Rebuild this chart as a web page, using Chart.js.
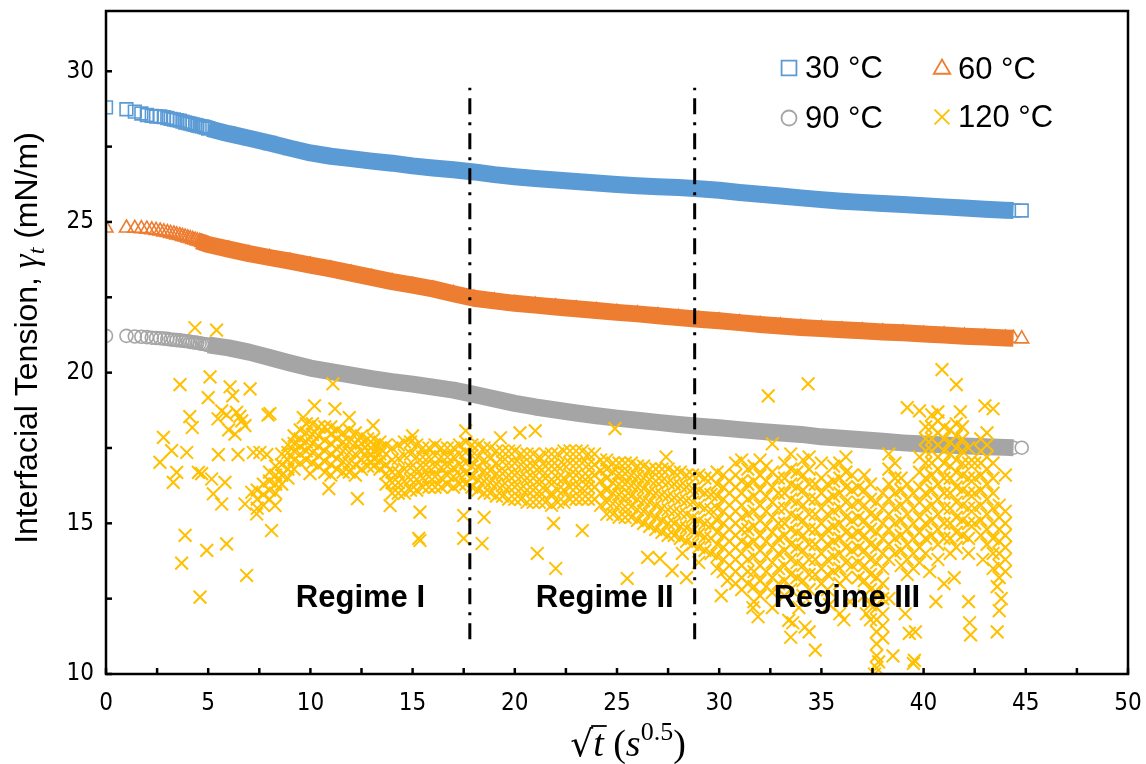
<!DOCTYPE html>
<html>
<head>
<meta charset="utf-8">
<script src="https://cdn.jsdelivr.net/npm/chart.js@4.4.0/dist/chart.umd.min.js"></script>
<style>
  html, body { margin: 0; padding: 0; background: #fff; }
  #wrap { width: 1146px; height: 764px; }
</style>
</head>
<body>
<div id="wrap"><canvas id="chart" width="1146" height="764"></canvas></div>
<script>
// ---- data ----
const seriesNames = ['30 °C', '60 °C', '90 °C', '120 °C'];

// sqrt(t) positions shared by the three smooth runs
const smoothX = [0, 1, 1.41, 1.73, 2, 2.24, 2.45, 2.65, 2.83, 3, 3.16, 3.32, 3.46, 3.61, 3.74, 3.87, 4, 4.12, 4.24, 4.36, 4.47, 4.58, 4.69, 4.8, 4.9, 5,
  6, 7, 8, 9, 10, 11, 12, 13, 14, 15, 16, 17, 18, 19, 20, 21, 22, 23, 24, 25, 26, 27, 28, 29, 30,
  31, 32, 33, 34, 35, 36, 37, 38, 39, 40, 41, 42, 43, 44, 44.4, 44.8];

const ift30 = [28.8, 28.74, 28.66, 28.6, 28.55, 28.52, 28.5, 28.5, 28.48, 28.45, 28.42, 28.4, 28.38, 28.36, 28.33, 28.3, 28.28, 28.26, 28.24, 28.22, 28.2, 28.18, 28.17, 28.15, 28.13, 28.1,
  27.93, 27.78, 27.62, 27.45, 27.29, 27.18, 27.1, 27.02, 26.95, 26.86, 26.79, 26.73, 26.66, 26.57, 26.5, 26.44, 26.39, 26.34, 26.29, 26.24, 26.2, 26.17, 26.14, 26.1, 26.05,
  25.98, 25.92, 25.86, 25.8, 25.74, 25.69, 25.65, 25.61, 25.58, 25.54, 25.5, 25.46, 25.42, 25.39, 25.38, 25.38];

const ift60 = [24.8, 24.8, 24.79, 24.78, 24.76, 24.74, 24.72, 24.7, 24.67, 24.65, 24.62, 24.6, 24.57, 24.55, 24.52, 24.5, 24.47, 24.45, 24.42, 24.4, 24.37, 24.35, 24.32, 24.3, 24.27, 24.25,
  24.1, 23.95, 23.82, 23.7, 23.57, 23.44, 23.3, 23.16, 23.02, 22.9, 22.78, 22.62, 22.47, 22.38, 22.3, 22.24, 22.18, 22.12, 22.06, 22.0, 21.95, 21.89, 21.83, 21.77, 21.72,
  21.66, 21.6, 21.55, 21.5, 21.46, 21.42, 21.39, 21.35, 21.32, 21.28, 21.25, 21.21, 21.18, 21.15, 21.14, 21.12];

const ift90 = [21.22, 21.22, 21.2, 21.19, 21.18, 21.16, 21.15, 21.14, 21.13, 21.12, 21.1, 21.09, 21.08, 21.07, 21.06, 21.05, 21.04, 21.02, 21.01, 21.0, 20.99, 20.97, 20.96, 20.95, 20.93, 20.92,
  20.82, 20.68, 20.5, 20.32, 20.15, 20.03, 19.92, 19.8, 19.7, 19.62, 19.52, 19.42, 19.28, 19.13, 18.98, 18.86, 18.76, 18.66, 18.57, 18.49, 18.42, 18.35, 18.28, 18.22, 18.17,
  18.11, 18.05, 18.0, 17.95, 17.87, 17.82, 17.77, 17.72, 17.67, 17.63, 17.6, 17.57, 17.54, 17.52, 17.51, 17.51];

// 120 °C: isolated points [sqrt(t), IFT]
const hotSparse = [
  [2.64,17.02],[2.81,17.85],[3.21,17.41],[3.29,16.36],[3.46,16.69],[3.62,19.6],[3.7,13.68],[3.87,14.6],[3.95,17.35],[4.1,18.54],
  [4.22,18.18],[4.35,21.49],[4.52,16.69],[4.6,12.55],[4.68,16.65],[4.93,14.1],[5.0,19.17],[5.09,19.86],[5.17,16.47],[5.25,15.98],
  [5.41,21.41],[5.48,18.47],[5.5,17.28],[5.66,18.73],[5.66,15.64],[5.82,16.36],[5.9,14.32],[6.07,19.53],[6.2,19.23],[6.31,17.96],
  [6.39,18.68],[6.46,17.28],[6.64,18.4],[6.8,18.24],[6.8,15.64],[6.88,13.27],[7.05,19.46],[7.13,16.03],[7.21,17.35],[7.37,15.31],
  [7.53,17.35],[7.87,17.28],[7.93,18.6],[6.0,18.1],[6.55,18.55],[5.9,18.6],
  [8.02,18.64],[8.1,14.76],[8.27,15.59],[9.65,18.51],[9.98,16.65],[10.2,18.9],[10.9,16.15],[11.1,19.63],[11.2,18.8],[11.9,18.51],
  [12.3,15.82],[13.07,18.24],[13.9,15.59],[15.0,17.9],[15.3,14.5],[15.36,14.43],[15.36,15.37],[17.5,14.5],[17.5,15.26],[17.6,18.07],
  [18.4,14.33],[18.5,15.2],[19.3,17.84],[20.25,18.0],[21.0,18.07],[21.1,14.0],[21.9,15.0],[22.0,13.5],[23.3,14.76],[24.9,18.14],
  [25.5,13.17],[26.5,13.87],[27.1,13.83],[27.4,17.2],[27.7,13.43],[28.4,13.2],[28.2,14.0],[29.0,13.7],[30.4,13.1],[30.1,12.6],
  [31.1,17.1],[31.65,12.2],[31.9,11.9],[32.4,19.23],[32.6,17.64],[33.4,11.78],[33.5,11.22],[33.6,11.7],[34.35,19.63],[34.2,11.56],
  [34.4,11.4],[34.7,10.79],[35.9,12.0],[36.1,11.8],[37.6,10.0],[37.8,10.4],[38.3,12.5],[38.5,10.6],[39.2,18.84],[39.8,18.73],
  [39.3,11.35],[39.5,10.35],[39.55,10.45],[39.6,11.4],[39.1,12.0],[40.9,20.1],[41.6,19.6],[41.8,18.7],[42.2,12.4],[42.25,11.7],
  [42.3,11.3],[41.5,13.2],[43.0,18.9],[43.4,18.8],[43.6,12.9],[43.7,12.1],[43.6,11.4],[43.8,12.5],[44.0,16.6],[40.6,12.4],
  [41.0,13.0],[40.3,13.4],[36.4,12.4],[35.4,12.3],[33.9,12.2],[37.2,12.0],[42.9,13.8]
];

// 120 °C: dense stretches, read as columns [sqrt(t), [IFT values]]
const hotColumns = [
  [7.4,[15.5,15.8,16.1]], [7.7,[15.6,15.95,16.3]], [8.0,[15.8,16.1,16.4,16.7]], [8.3,[16.0,16.3,16.6,16.9]],
  [8.6,[16.3,16.6,16.95,17.3]], [8.9,[16.5,16.8,17.1,17.35,17.6]], [9.2,[16.8,17.1,17.4,17.65,17.9]], [9.5,[17.0,17.3,17.55,17.8,18.1]],
  [9.8,[17.1,17.4,17.7,18.0,18.3]], [10.1,[17.0,17.35,17.65,17.95,18.3]], [10.4,[16.9,17.25,17.55,17.9,18.2]], [10.7,[16.7,17.05,17.4,17.75,18.2]],
  [11.0,[16.6,16.95,17.3,17.65,17.95,18.2]], [11.3,[16.8,17.15,17.45,17.8,18.1]], [11.6,[16.7,17.05,17.4,17.7,18.0]], [11.9,[16.7,17.0,17.35,17.7,18.1]],
  [12.2,[16.6,16.95,17.3,17.65,18.0]], [12.5,[16.8,17.1,17.4,17.65,17.9]], [12.8,[16.9,17.15,17.4,17.6,17.8]], [13.1,[16.9,17.15,17.4,17.6,17.8]],
  [13.4,[16.8,17.05,17.3,17.5,17.7]], [13.7,[16.3,16.65,16.95,17.3,17.6]], [14.0,[16.0,16.35,16.7,17.1,17.5]], [14.3,[16.0,16.35,16.7,17.15,17.6]],
  [14.6,[16.0,16.4,16.8,17.25,17.7]], [14.9,[16.1,16.45,16.85,17.3,17.7]], [15.2,[16.1,16.45,16.8,17.2,17.6]], [15.5,[16.2,16.5,16.85,17.2,17.5]],
  [15.8,[16.2,16.55,16.85,17.2,17.5]], [16.1,[16.2,16.55,16.9,17.25,17.6]], [16.4,[16.2,16.5,16.85,17.2,17.5]], [16.7,[16.3,16.6,16.9,17.2,17.5]],
  [17.0,[16.2,16.55,16.85,17.2,17.5]], [17.3,[16.3,16.6,16.95,17.3,17.6]], [17.6,[16.3,16.65,17.0,17.35,17.7]], [17.9,[16.2,16.55,16.9,17.25,17.6]],
  [18.2,[16.1,16.45,16.85,17.2,17.6]], [18.5,[16.0,16.4,16.75,17.1,17.5]], [18.8,[16.0,16.35,16.75,17.15,17.5]], [19.1,[15.9,16.3,16.65,17.0,17.4]],
  [19.4,[15.9,16.25,16.65,17.05,17.4]], [19.7,[15.8,16.2,16.6,17.0,17.4]], [20.0,[15.8,16.2,16.6,17.0,17.4]], [20.3,[15.8,16.15,16.55,16.95,17.3]],
  [20.6,[15.7,16.1,16.5,16.9,17.3]], [20.9,[15.7,16.1,16.5,16.9,17.3]], [21.2,[15.7,16.05,16.45,16.85,17.2]], [21.5,[15.7,16.1,16.5,16.9,17.3]],
  [21.8,[15.6,16.0,16.45,16.9,17.3]], [22.1,[15.7,16.1,16.5,16.9,17.3]], [22.4,[15.7,16.1,16.5,16.95,17.4]], [22.7,[15.8,16.2,16.6,17.0,17.4]],
  [23.0,[15.8,16.2,16.6,17.0,17.4]], [23.3,[15.8,16.15,16.55,17.0,17.4]], [23.6,[15.8,16.2,16.55,16.95,17.3]], [23.9,[15.8,16.2,16.6,16.95,17.3]],
  [24.2,[15.6,16.0,16.4,16.75,17.1]], [24.5,[15.3,15.7,16.1,16.5,16.8,17.1]], [24.8,[15.3,15.65,16.0,16.35,16.7,17.0]], [25.1,[15.2,15.6,15.95,16.3,16.65,17.0]],
  [25.4,[15.2,15.55,15.9,16.3,16.65,17.0]], [25.7,[15.2,15.55,15.9,16.25,16.6,17.0]], [26.0,[15.1,15.45,15.8,16.2,16.55,16.9]], [26.3,[15.0,15.4,15.75,16.15,16.5,16.9]],
  [26.6,[14.9,15.3,15.7,16.05,16.45,16.8]], [26.9,[14.8,15.2,15.6,16.0,16.4,16.8]], [27.2,[14.7,15.1,15.5,15.95,16.4,16.8]], [27.5,[14.6,15.0,15.45,15.9,16.35,16.8]],
  [27.8,[14.6,15.0,15.4,15.85,16.3,16.7]], [28.1,[14.5,14.9,15.35,15.8,16.25,16.7]], [28.4,[14.4,14.85,15.3,15.75,16.2,16.6]], [28.7,[14.3,14.75,15.2,15.7,16.15,16.6]],
  [29.0,[14.2,14.65,15.1,15.6,16.1,16.6]], [29.3,[14.1,14.55,15.0,15.5,16.0,16.5]], [29.6,[14.0,14.5,14.95,15.45,15.95,16.5]],
  [29.9,[13.5,13.9,14.3,14.7,15.1,15.5,15.9,16.3,16.7]], [30.2,[13.4,13.8,14.2,14.6,15.0,15.4,15.8,16.2,16.6]], [30.5,[13.6,14.0,14.4,14.8,15.2,15.6,16.0,16.4]],
  [30.8,[13.0,13.4,13.8,14.2,14.6,15.0,15.4,15.8,16.2,16.6,17.0]], [31.1,[12.8,13.2,13.6,14.0,14.4,14.8,15.2,15.6,16.0,16.4]], [31.4,[13.0,13.4,13.8,14.3,14.8,15.3,15.8,16.3,16.8]],
  [31.7,[12.4,12.9,13.4,13.9,14.4,14.9,15.4,15.9,16.4,16.9]], [32.0,[12.6,13.1,13.6,14.1,14.6,15.1,15.6,16.1,16.6,17.1]], [32.3,[12.9,13.4,13.9,14.4,14.9,15.4,15.9,16.4,16.9]],
  [32.6,[12.2,12.7,13.2,13.7,14.2,14.7,15.2,15.7,16.2,16.7]], [32.9,[13.0,13.5,14.0,14.5,15.0,15.5,16.0,16.5]], [33.2,[12.6,13.1,13.6,14.1,14.6,15.0,15.5,16.0,16.5,17.0]],
  [33.5,[12.8,13.3,13.8,14.3,14.8,15.3,15.8,16.3,16.8,17.3]], [33.8,[13.2,13.7,14.2,14.7,15.2,15.7,16.2,16.7]], [34.1,[12.6,13.1,13.6,14.1,14.6,15.1,15.6,16.1,16.6,17.1]],
  [34.4,[12.8,13.3,13.8,14.3,14.8,15.3,15.8,16.3,16.8,17.2]], [34.7,[13.3,13.8,14.3,14.8,15.3,15.8,16.3]], [35.0,[13.0,13.5,14.0,14.5,15.0,15.5,16.0,16.5,17.0]],
  [35.3,[12.8,13.3,13.8,14.3,14.8,15.3,15.8,16.3]], [35.6,[13.4,13.9,14.4,14.9,15.4,15.9,16.4,16.9]], [35.9,[13.0,13.5,14.0,14.5,15.0,15.5,16.0,16.5,17.0]],
  [36.2,[13.2,13.7,14.2,14.7,15.2,15.7,16.2,16.7,17.2]], [36.5,[13.6,14.1,14.6,15.1,15.6,16.1,16.6]], [36.8,[13.2,13.7,14.2,14.7,15.2,15.7,16.2]],
  [37.1,[12.6,13.1,13.6,14.1,14.6,15.1,15.6,16.1,16.6]], [37.4,[11.8,12.3,12.8,13.3,13.8,14.3,14.8,15.3,15.8,16.3]],
  [37.7,[10.2,10.6,11.0,11.4,11.8,12.2,12.7,13.2,13.7,14.2,14.7,15.2,15.7]], [38.0,[11.2,11.6,12.0,12.5,13.0,13.5,14.0,14.5,15.0,15.5,16.0]],
  [38.3,[13.8,14.3,14.8,15.3,15.8,16.3,16.8,17.3]], [38.6,[14.0,14.5,15.0,15.5,16.0,16.5,17.0]], [38.9,[13.6,14.1,14.6,15.1,15.6,16.1,16.5]],
  [39.2,[13.3,13.8,14.3,14.8,15.3,15.8,16.3]], [39.5,[13.5,14.0,14.5,15.0,15.5,16.0]], [39.8,[13.7,14.2,14.7,15.2,15.7,16.2,16.7,17.2]],
  [40.1,[14.0,14.5,15.0,15.5,16.0,16.5,17.0,17.4,17.8,18.2]], [40.4,[14.6,15.1,15.6,16.1,16.6,17.0,17.4,17.8,18.2,18.6]],
  [40.7,[13.8,14.3,14.8,15.3,15.8,16.3,16.8,17.2,17.6,18.0,18.4,18.7]], [41.0,[14.5,15.0,15.5,16.0,16.5,17.0,17.4,17.8,18.2]],
  [41.3,[14.0,14.5,15.0,15.5,16.0,16.5,16.9,17.3,17.7,18.1]], [41.6,[14.2,14.7,15.2,15.7,16.2,16.7,17.1,17.5,17.9,18.3]],
  [41.9,[14.6,15.1,15.6,16.1,16.6,17.0,17.4,17.8,18.2]], [42.2,[14.0,14.5,15.0,15.5,16.0,16.5,17.0,17.5]], [42.5,[15.0,15.5,16.0,16.5,17.0]],
  [42.8,[14.6,15.1,15.6,16.1,16.6,17.0,17.4,17.8]], [43.1,[14.3,14.8,15.3,15.8,16.3,16.8,17.2,17.6,18.0]], [43.4,[13.5,14.0,14.5,15.0,15.5,16.0,16.5,17.0]],
  [43.7,[13.2,13.6,14.0,14.4,14.8,15.2,15.6]], [44.0,[13.4,13.8,14.2,14.6,15.0,15.4]]
];

// regime boundaries and labels
const regimeX = [17.8, 28.8];
const regimeSpan = [11.15, 29.45];
const regimeNames = ['Regime I', 'Regime II', 'Regime III'];
const regimeLabelX = [12.45, 24.4, 36.25];
const regimeLabelY = 12.5;

// ---- styles ----
const BLUE = '#5B9BD5', ORANGE = '#ED7D31', GREY = '#A5A5A5', GOLD = '#FFC000';
const SANS = '"Liberation Sans", Arial, sans-serif';
const NARROW = '"Liberation Sans Narrow", "DejaVu Sans Condensed", "Liberation Sans", sans-serif';
const SERIF = '"Liberation Serif", "DejaVu Serif", serif';
const CLEAR = 'rgba(0,0,0,0)';

const last = smoothX.length - 1;
function toPts(ys) { return smoothX.map((x, i) => ({ x: x, y: ys[i] })); }

// dense stretch drawn as a thick band, the sparse start and the last point as open markers
function bandSet(label, ys, color, style, radius, startX) {
  return {
    label: label,
    data: toPts(ys),
    showLine: true,
    borderColor: color,
    borderWidth: 17,
    borderCapStyle: 'butt',
    borderJoinStyle: 'round',
    segment: {
      borderColor: ctx => (ctx.p0.parsed.x < startX || ctx.p1DataIndex === last) ? CLEAR : color
    },
    pointStyle: style,
    pointRadius: radius,
    pointBorderWidth: 1.6,
    pointBorderColor: color,
    pointBackgroundColor: ctx => ctx.dataIndex === last ? '#fff' : CLEAR
  };
}

const hotPoints = hotSparse.map(p => ({ x: p[0], y: p[1] }))
  .concat(hotColumns.flatMap(c => c[1].map(y => ({ x: c[0], y: y }))));

function regimeLine(x) {
  return {
    data: [{ x: x, y: regimeSpan[0] }, { x: x, y: regimeSpan[1] }],
    showLine: true, borderColor: '#000', borderWidth: 3, borderDash: [16, 8, 3, 8],
    pointRadius: 0
  };
}

function drawMarker(ctx, style, r, x, y, color) {
  ctx.save();
  ctx.strokeStyle = color; ctx.fillStyle = CLEAR; ctx.lineWidth = 1.8;
  Chart.helpers.drawPoint(ctx, { pointStyle: style, radius: r, rotation: 0, borderWidth: 1.8 }, x, y);
  ctx.restore();
}

// frame, inside ticks, labels, titles, legend
const decor = {
  id: 'decor',
  afterDatasetsDraw(chart) {
    const ctx = chart.ctx, a = chart.chartArea, xs = chart.scales.x, ys = chart.scales.y;
    ctx.save();
    ctx.strokeStyle = '#000'; ctx.fillStyle = '#000';
    ctx.lineWidth = 2.5;
    ctx.strokeRect(a.left, a.top, a.right - a.left, a.bottom - a.top);

    ctx.font = '24px ' + NARROW;
    ctx.textBaseline = 'middle';
    xs.ticks.forEach(t => {
      if (t.value % 2.5 !== 0) return;
      const px = xs.getPixelForValue(t.value);
      ctx.beginPath(); ctx.moveTo(px, a.bottom); ctx.lineTo(px, a.bottom - 6); ctx.stroke();
      if (t.value % 5 === 0) { ctx.textAlign = 'center'; ctx.fillText(String(t.value), px, a.bottom + 30); }
    });
    ys.ticks.forEach(t => {
      if (t.value % 2.5 !== 0) return;
      const py = ys.getPixelForValue(t.value);
      ctx.beginPath(); ctx.moveTo(a.left, py); ctx.lineTo(a.left + 6, py); ctx.stroke();
      if (t.value % 5 === 0) { ctx.textAlign = 'right'; ctx.fillText(String(t.value), a.left - 12, py); }
    });

    // regime labels
    ctx.font = 'bold 31px ' + SANS;
    ctx.textAlign = 'center';
    regimeNames.forEach((n, i) => {
      ctx.fillText(n, xs.getPixelForValue(regimeLabelX[i]), ys.getPixelForValue(regimeLabelY));
    });

    // legend
    const legend = [
      { name: seriesNames[0], style: 'rect', r: 10.5, color: BLUE, x: 789, y: 68 },
      { name: seriesNames[1], style: 'triangle', r: 9.5, color: ORANGE, x: 942, y: 69 },
      { name: seriesNames[2], style: 'circle', r: 7.5, color: GREY, x: 789, y: 118 },
      { name: seriesNames[3], style: 'crossRot', r: 10.5, color: GOLD, x: 942, y: 117 }
    ];
    ctx.font = '31px ' + SANS;
    ctx.textAlign = 'left';
    legend.forEach(l => {
      drawMarker(ctx, l.style, l.r, l.x, l.y, l.color);
      ctx.fillStyle = '#000';
      ctx.fillText(l.name, l.x + 16, l.y + 1);
    });

    // y title: Interfacial Tension, γt (mN/m)
    const yParts = [
      { t: 'Interfacial Tension, ', f: '32px ' + SANS, dy: 0 },
      { t: 'γ', f: 'italic 35px ' + SERIF, dy: 0 },
      { t: 't', f: 'italic 24px ' + SERIF, dy: 7 },
      { t: ' (mN/m)', f: '32px ' + SANS, dy: 0 }
    ];
    ctx.save();
    ctx.translate(26, 338);
    ctx.rotate(-Math.PI / 2);
    ctx.textBaseline = 'alphabetic';
    ctx.textAlign = 'left';
    let total = 0;
    yParts.forEach(p => { ctx.font = p.f; p.w = ctx.measureText(p.t).width; total += p.w; });
    let cx = -total / 2;
    yParts.forEach(p => { ctx.font = p.f; ctx.fillText(p.t, cx, 11 + p.dy); cx += p.w; });
    ctx.restore();

    // x title: √t (s^0.5)
    const base = 756;
    const xParts = [
      { t: '√', f: '36px "DejaVu Sans", sans-serif', dy: 0 },
      { t: 't', f: 'italic 38px ' + SERIF, dy: 0, bar: true },
      { t: ' (', f: '38px ' + SERIF, dy: 0 },
      { t: 's', f: 'italic 38px ' + SERIF, dy: 0 },
      { t: '0.5', f: '26px ' + SERIF, dy: -16 },
      { t: ')', f: '38px ' + SERIF, dy: 0 }
    ];
    ctx.textBaseline = 'alphabetic';
    ctx.textAlign = 'left';
    total = 0;
    xParts.forEach(p => { ctx.font = p.f; p.w = ctx.measureText(p.t).width; total += p.w; });
    cx = 628 - total / 2;
    xParts.forEach(p => {
      ctx.font = p.f;
      ctx.fillText(p.t, cx, base + p.dy);
      if (p.bar) {
        ctx.lineWidth = 1.8;
        ctx.beginPath(); ctx.moveTo(cx - 2, base - 30); ctx.lineTo(cx + p.w + 3, base - 30); ctx.stroke();
      }
      cx += p.w;
    });
    ctx.restore();
  }
};

new Chart(document.getElementById('chart'), {
  type: 'scatter',
  data: {
    datasets: [
      regimeLine(regimeX[0]),
      regimeLine(regimeX[1]),
      {
        label: seriesNames[3], data: hotPoints, pointStyle: 'crossRot', pointRadius: 9,
        pointBorderWidth: 2, pointBorderColor: GOLD, pointBackgroundColor: GOLD, showLine: false
      },
      bandSet(seriesNames[2], ift90, GREY, 'circle', 6.5, 5),
      bandSet(seriesNames[1], ift60, ORANGE, 'triangle', 8, 4.4),
      bandSet(seriesNames[0], ift30, BLUE, 'rect', 9, 5)
    ]
  },
  options: {
    responsive: false,
    animation: false,
    events: [],
    devicePixelRatio: 1,
    layout: { padding: { left: 106, right: 18, top: 10, bottom: 90 } },
    plugins: { legend: { display: false }, tooltip: { enabled: false } },
    scales: {
      x: {
        type: 'linear', min: 0, max: 50,
        ticks: { stepSize: 2.5, display: false },
        grid: { display: false, drawTicks: false },
        border: { display: false }
      },
      y: {
        type: 'linear', min: 10, max: 32,
        ticks: { stepSize: 2.5, display: false },
        grid: { display: false, drawTicks: false },
        border: { display: false }
      }
    }
  },
  plugins: [decor]
});
</script>
</body>
</html>
